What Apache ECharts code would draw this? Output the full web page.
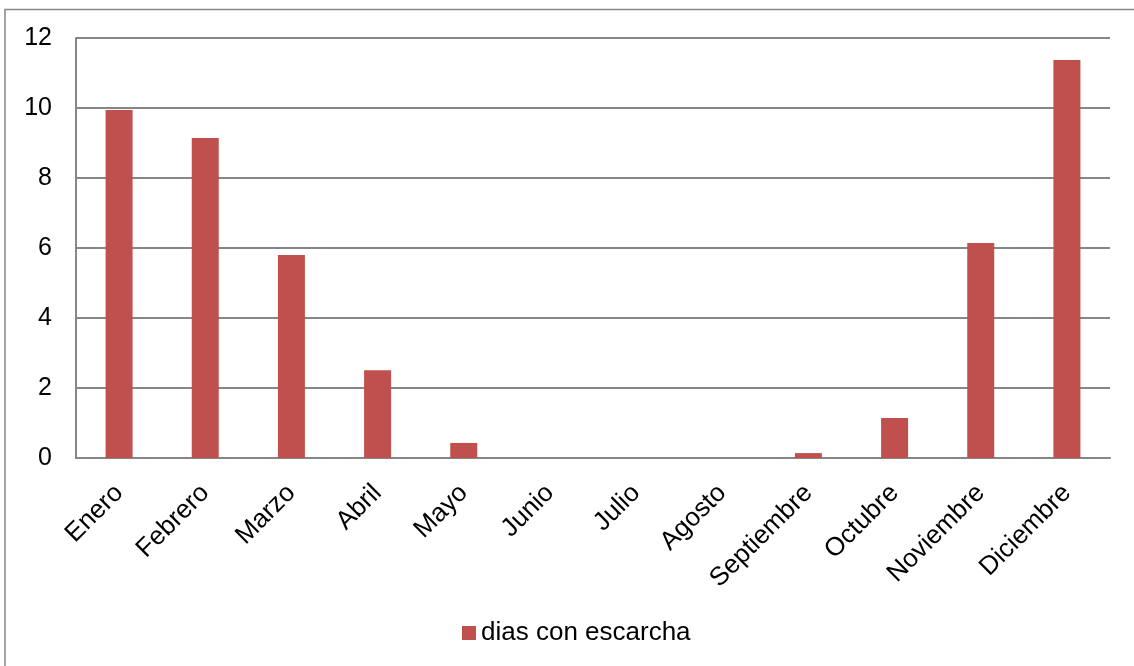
<!DOCTYPE html>
<html><head><meta charset="utf-8">
<script src="https://cdn.jsdelivr.net/npm/echarts@6/dist/echarts.min.js"></script>
<style>html,body{margin:0;padding:0;background:#fff}#c{width:1134px;height:666px}</style>
</head><body><div id="c"></div>
<script>
const categories = ['Enero','Febrero','Marzo','Abril','Mayo','Junio','Julio','Agosto','Septiembre','Octubre','Noviembre','Diciembre'];
const seriesName = 'dias con escarcha';
const values = [9.94, 9.14, 5.8, 2.51, 0.43, 0, 0, 0, 0.14, 1.14, 6.14, 11.37];
const yTicks = {min: 0, max: 12, interval: 2};

const chart = echarts.init(document.getElementById('c'), null, {renderer: 'canvas'});
const font = 'Liberation Sans, Arial, sans-serif';
chart.setOption({
  animation: false,
  backgroundColor: '#fff',
  graphic: [{
    type: 'rect', shape: {x: 5, y: 9.5, width: 1140, height: 680},
    style: {fill: 'none', stroke: '#868686', lineWidth: 1.5}, silent: true
  }],
  grid: {left: 76, right: 24, top: 38, bottom: 208, containLabel: false},
  legend: {
    left: 457, top: 615, itemWidth: 14, itemHeight: 14, itemGap: 6,
    textStyle: {fontFamily: font, fontSize: 26, color: '#000'},
    data: [{name: seriesName, icon: 'rect'}]
  },
  xAxis: {
    type: 'category', data: categories,
    axisLine: {lineStyle: {color: '#868686', width: 2}},
    axisTick: {show: false},
    axisLabel: {rotate: 45, margin: 31, interval: 0, fontFamily: font, fontSize: 26, color: '#000'}
  },
  yAxis: {
    type: 'value', min: yTicks.min, max: yTicks.max, interval: yTicks.interval,
    axisLine: {show: true, lineStyle: {color: '#868686', width: 2}},
    axisTick: {show: false},
    splitLine: {lineStyle: {color: '#868686', width: 2}},
    axisLabel: {margin: 24, fontFamily: font, fontSize: 25, color: '#000'}
  },
  series: [{
    name: seriesName, type: 'bar', data: values, barWidth: 27,
    itemStyle: {color: '#C0504D'}
  }]
});
</script></body></html>
